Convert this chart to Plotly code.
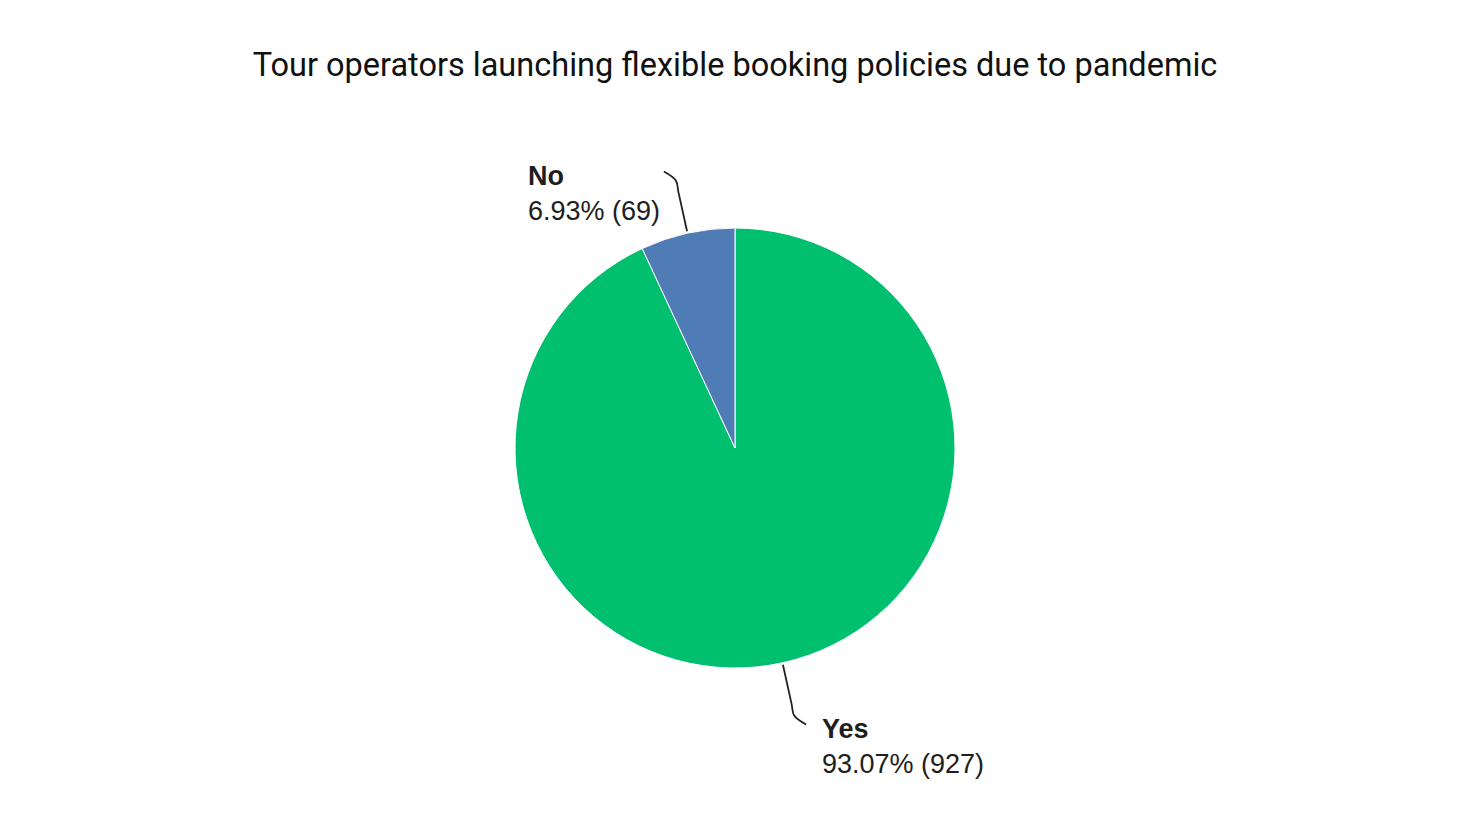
import math
import plotly.graph_objects as go

# data
labels = ["Yes", "No"]
values = [927, 69]
colors = ["#00BF6F", "#507CB6"]
title = "Tour operators launching flexible booking policies due to pandemic"

# the page adds an 8px body margin, so draw in a slightly smaller figure
W, H = 1454, 807
off = 8
cx, cy, r = 735 - off, 448 - off, 220

fig = go.Figure()
fig.add_trace(go.Pie(
    labels=labels, values=values, sort=False, direction="clockwise", rotation=0,
    marker=dict(colors=colors, line=dict(color="white", width=1)),
    textinfo="none", hoverinfo="label+value+percent", showlegend=False,
    domain=dict(x=[0, 1], y=[1 - (cy + r) / H, 1 - (cy - r) / H]),
))

# leader lines + labels, placed from each slice's mid angle
total = sum(values)
start = 0.0
for lab, v in zip(labels, values):
    frac = v / total
    mid = (start + frac / 2) * 2 * math.pi
    start += frac
    sx, sy = math.sin(mid), -math.cos(mid)
    side = 1 if sx >= 0 else -1
    p0 = (cx + sx * (r + 2), cy + sy * (r + 2))
    p1 = (cx + sx * (r + 42), cy + sy * (r + 42))
    p2 = (cx + sx * (r + 54), cy + sy * (r + 54))
    p3 = (p2[0] + side * 12, p2[1] + math.copysign(9, sy))
    fig.add_trace(go.Scatter(
        x=[p0[0], p1[0], p2[0], p3[0]], y=[p0[1], p1[1], p2[1], p3[1]],
        mode="lines", line=dict(color="#222222", width=1.8, shape="spline"),
        hoverinfo="skip", showlegend=False,
    ))
    txt = "<b>%s</b><br>%.2f%% (%d)" % (lab, frac * 100, v)
    if side > 0:
        tx, anchor = p3[0] + 14, "left"
    else:
        tx, anchor = p3[0] - 2, "right"
    fig.add_annotation(x=tx, y=p3[1] + 22, text=txt, xanchor=anchor, yanchor="middle",
                       showarrow=False, align="left", xref="x", yref="y",
                       font=dict(family="Liberation Sans, Arial", size=27, color="#1e1e1e"))

fig.update_layout(
    width=W, height=H,
    margin=dict(l=0, r=0, t=0, b=0),
    paper_bgcolor="white", plot_bgcolor="rgba(0,0,0,0)",
    title=dict(text=title, x=0.5, xanchor="center", y=1 - (65 - off) / H, yanchor="middle",
               font=dict(family="Roboto", size=32.5, color="#111111")),
    xaxis=dict(range=[0, W], visible=False, fixedrange=True),
    yaxis=dict(range=[H, 0], visible=False, fixedrange=True),
)

fig.write_html("out.html")
